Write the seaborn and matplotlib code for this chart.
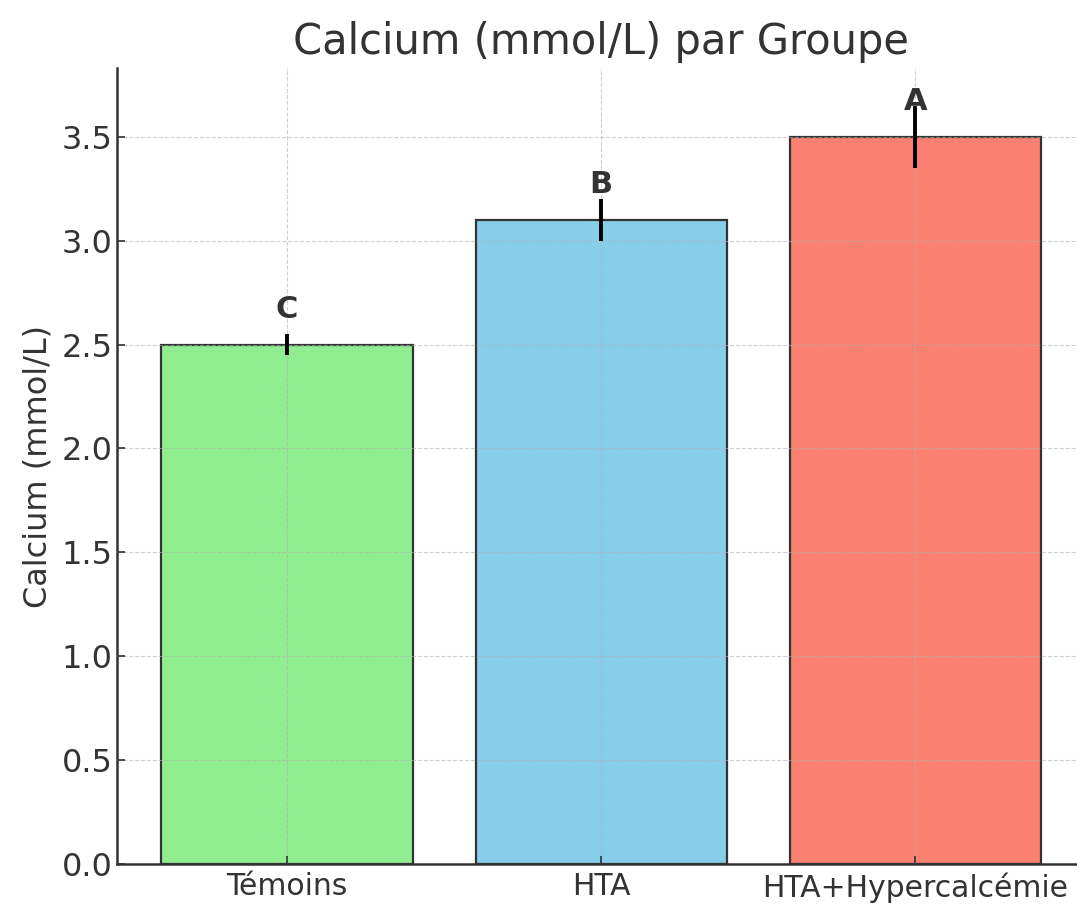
import matplotlib
matplotlib.use('Agg')
import matplotlib.pyplot as plt
import pandas as pd
import seaborn as sns

# Data
groups = ['Témoins', 'HTA', 'HTA+Hypercalcémie']
calcium = [2.5, 3.1, 3.5]
errors = [0.05, 0.1, 0.15]
letters = ['C', 'B', 'A']
colors = ['lightgreen', 'skyblue', 'salmon']

df = pd.DataFrame({'groupe': groups, 'calcium': calcium})

plt.rcParams['font.family'] = ['DejaVu Sans']
plt.rcParams['text.color'] = '#333333'
plt.rcParams['axes.labelcolor'] = '#333333'
plt.rcParams['xtick.color'] = '#333333'
plt.rcParams['ytick.color'] = '#333333'

fig = plt.figure(figsize=(10.77, 9.09), dpi=100)
ax = fig.add_axes([0.109, 0.0495, 0.8984, 0.8755])

# Bars
sns.barplot(ax=ax, data=df, x='groupe', y='calcium', hue='groupe', palette=colors,
            edgecolor='#333333', linewidth=1.6, width=0.8, errorbar=None, legend=False,
            saturation=1)
ax.errorbar(range(len(groups)), calcium, yerr=errors, fmt='none', ecolor='black',
            elinewidth=2.8, capsize=0)

# Significance letters
for i, (val, err, let) in enumerate(zip(calcium, errors, letters)):
    ax.text(i, val + 0.1, let, ha='center', va='bottom', fontsize=22, fontweight='bold')

# Set graphic layout
ax.set_title('Calcium (mmol/L) par Groupe', fontsize=30, pad=10)
ax.set_xlabel('')
ax.set_ylabel('Calcium (mmol/L)', fontsize=23, labelpad=6)
ax.set_xlim(-0.54, 2.54)
ax.set_ylim(0, 3.83)
ax.tick_params(axis='both', direction='in', length=6, width=1.2)
ax.tick_params(axis='y', labelsize=23)
ax.tick_params(axis='x', labelsize=21.5, pad=6)
ax.grid(True, linestyle='--', color='#b0b0b0', alpha=0.6)
for side in ['top', 'right']:
    ax.spines[side].set_visible(False)
for side in ['left', 'bottom']:
    ax.spines[side].set_linewidth(1.8)
    ax.spines[side].set_color('#333333')

fig.savefig('out.png', dpi=100)
